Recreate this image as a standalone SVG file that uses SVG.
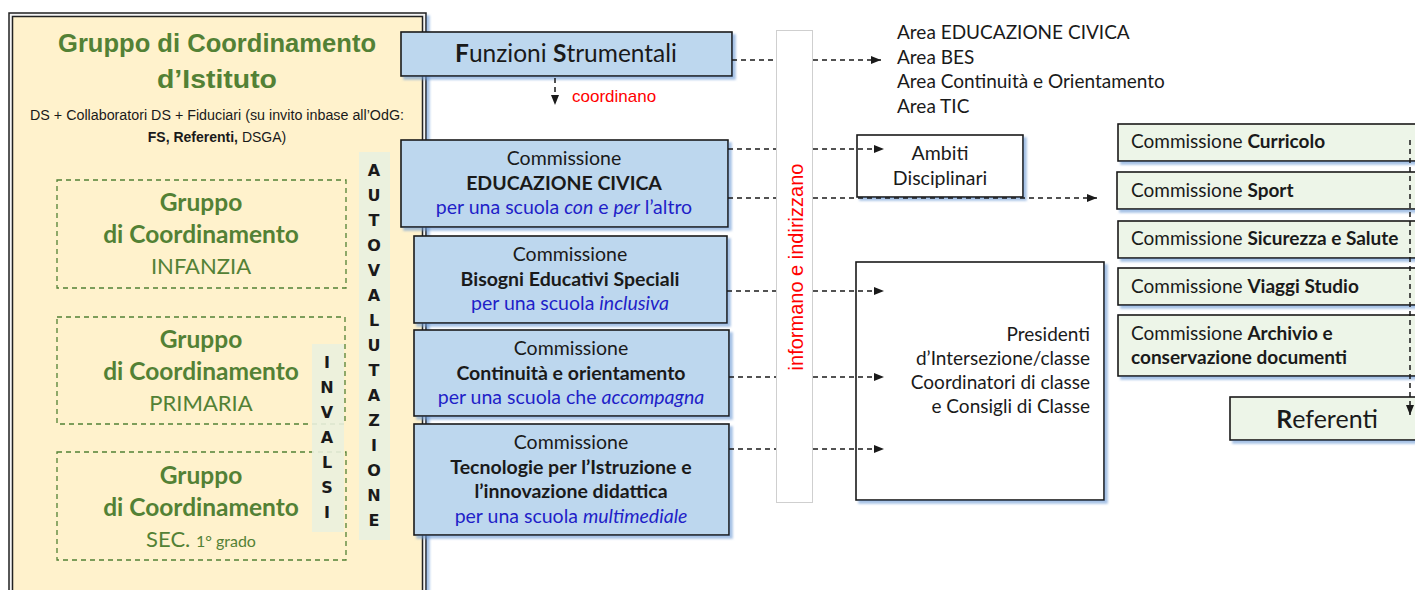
<svg xmlns="http://www.w3.org/2000/svg" width="1415" height="590" viewBox="0 0 1415 590">
<style>
.cal{font-family:Lato,"Open Sans","DejaVu Sans",sans-serif}
.ari{font-family:"Liberation Sans",Arial,sans-serif}
.blue{fill:#BDD7EE;stroke:#1a1a1a;stroke-width:1.6}
.grn{fill:#EDF5E8;stroke:#1a1a1a;stroke-width:1.6}
.wht{fill:#fff;stroke:#1a1a1a;stroke-width:1.6}
.gd{fill:none;stroke:#538135;stroke-width:1.3;stroke-dasharray:5 4}
.gt{fill:#538135}
.bt{fill:#1a1a1a;font-size:19.5px}
.it{fill:#1f1fc8;font-size:19.5px}
.rt{fill:#1a1a1a;font-size:19px}
.con{fill:none;stroke:#1a1a1a;stroke-width:1.5;stroke-dasharray:5 4}
.vl{font-family:"DejaVu Sans",Verdana,sans-serif;font-weight:bold;font-size:16px;fill:#1a1a1a}
</style>
<defs>
<filter id="sh" x="-5%" y="-5%" width="115%" height="120%">
<feDropShadow dx="3" dy="3" stdDeviation="1.2" flood-color="#6D9BD5" flood-opacity="0.6"/>
</filter>
<marker id="ar" viewBox="0 0 10 10" refX="10" refY="5" markerWidth="10" markerHeight="10" markerUnits="userSpaceOnUse" orient="auto">
<path d="M0,1 L10,5 L0,9 Z" fill="#1a1a1a"/>
</marker>
</defs>
<rect width="1415" height="590" fill="#fff"/>

<g id="gruppo-istituto">
<rect x="9" y="13" width="417" height="600" fill="#f4f4f4" stroke="#222" stroke-width="1.5" filter="url(#sh)"/>
<rect x="12.5" y="16.5" width="410" height="600" fill="#FFF2CC" stroke="#222" stroke-width="1.5"/>
<text class="ari gt" x="217" y="52" text-anchor="middle" font-size="26" font-weight="bold" textLength="318" lengthAdjust="spacingAndGlyphs">Gruppo di Coordinamento</text>
<text class="ari gt" x="217" y="88" text-anchor="middle" font-size="26" font-weight="bold" textLength="120" lengthAdjust="spacingAndGlyphs">d’Istituto</text>
<text class="ari" x="217" y="120" text-anchor="middle" font-size="14" fill="#1a1a1a" textLength="374" lengthAdjust="spacingAndGlyphs">DS + Collaboratori DS + Fiduciari (su invito inbase all’OdG:</text>
<text class="ari" x="217" y="142" text-anchor="middle" font-size="14" fill="#1a1a1a"><tspan font-weight="bold">FS, Referenti,</tspan> DSGA)</text>
</g>

<g id="gruppo-infanzia">
<rect class="gd" x="57" y="180" width="289" height="108"/>
<text class="cal gt" x="201" y="211" text-anchor="middle" font-size="24.5" font-weight="bold">Gruppo</text>
<text class="cal gt" x="201" y="243" text-anchor="middle" font-size="24.5" font-weight="bold">di Coordinamento</text>
<text class="cal gt" x="201" y="274" text-anchor="middle" font-size="22">INFANZIA</text>
</g>
<g id="gruppo-primaria">
<rect class="gd" x="57" y="317" width="288" height="107"/>
<text class="cal gt" x="201" y="348" text-anchor="middle" font-size="24.5" font-weight="bold">Gruppo</text>
<text class="cal gt" x="201" y="380" text-anchor="middle" font-size="24.5" font-weight="bold">di Coordinamento</text>
<text class="cal gt" x="201" y="411" text-anchor="middle" font-size="22">PRIMARIA</text>
</g>
<g id="gruppo-sec">
<rect class="gd" x="57" y="452" width="289" height="108"/>
<text class="cal gt" x="201" y="484" text-anchor="middle" font-size="24.5" font-weight="bold">Gruppo</text>
<text class="cal gt" x="201" y="516" text-anchor="middle" font-size="24.5" font-weight="bold">di Coordinamento</text>
<text class="cal gt" x="201" y="547" text-anchor="middle" font-size="22">SEC. <tspan font-size="16">1° grado</tspan></text>
</g>

<g id="invalsi">
<rect x="312" y="344" width="32" height="188" fill="#EBF1DE" opacity="0.9"/>
<text class="vl" text-anchor="middle">
<tspan x="327" y="368">I</tspan><tspan x="327" y="393">N</tspan><tspan x="327" y="418">V</tspan><tspan x="327" y="443">A</tspan><tspan x="327" y="468">L</tspan><tspan x="327" y="493">S</tspan><tspan x="327" y="518">I</tspan>
</text>
</g>
<g id="autovalutazione">
<rect x="359" y="152" width="31" height="388" fill="#EBF1DE"/>
<text class="vl" text-anchor="middle">
<tspan x="374" y="176">A</tspan><tspan x="374" y="201">U</tspan><tspan x="374" y="226">T</tspan><tspan x="374" y="251">O</tspan><tspan x="374" y="276">V</tspan><tspan x="374" y="301">A</tspan><tspan x="374" y="326">L</tspan><tspan x="374" y="351">U</tspan><tspan x="374" y="376">T</tspan><tspan x="374" y="401">A</tspan><tspan x="374" y="426">Z</tspan><tspan x="374" y="451">I</tspan><tspan x="374" y="476">O</tspan><tspan x="374" y="501">N</tspan><tspan x="374" y="526">E</tspan>
</text>
</g>

<g id="funzioni-strumentali">
<rect class="blue" x="401" y="32" width="331" height="44" filter="url(#sh)"/>
<text class="cal" x="566" y="62" text-anchor="middle" font-size="24.5" fill="#1a1a1a"><tspan font-weight="bold">F</tspan>unzioni <tspan font-weight="bold">S</tspan>trumentali</text>
</g>
<text class="ari" x="572" y="102" font-size="17" fill="#ff0000">coordinano</text>
<g id="comm-edciv">
<rect class="blue" x="401" y="140" width="327" height="87" filter="url(#sh)"/>
<text class="cal bt" x="564" y="165" text-anchor="middle">Commissione</text>
<text class="cal bt" x="564" y="190" text-anchor="middle" font-weight="bold">EDUCAZIONE CIVICA</text>
<text class="cal it" x="564" y="214" text-anchor="middle">per una scuola <tspan font-style="italic">con</tspan> e <tspan font-style="italic">per</tspan> l’altro</text>
</g>
<g id="comm-bes">
<rect class="blue" x="414" y="236" width="313" height="87" filter="url(#sh)"/>
<text class="cal bt" x="570" y="261" text-anchor="middle">Commissione</text>
<text class="cal bt" x="570" y="286" text-anchor="middle" font-weight="bold">Bisogni Educativi Speciali</text>
<text class="cal it" x="570" y="310" text-anchor="middle">per una scuola <tspan font-style="italic">inclusiva</tspan></text>
</g>
<g id="comm-continuita">
<rect class="blue" x="414" y="330" width="315" height="86" filter="url(#sh)"/>
<text class="cal bt" x="571" y="355" text-anchor="middle">Commissione</text>
<text class="cal bt" x="571" y="380" text-anchor="middle" font-weight="bold">Continuità e orientamento</text>
<text class="cal it" x="571" y="404" text-anchor="middle">per una scuola che <tspan font-style="italic">accompagna</tspan></text>
</g>
<g id="comm-tecnologie">
<rect class="blue" x="414" y="424" width="315" height="111" filter="url(#sh)"/>
<text class="cal bt" x="571" y="449" text-anchor="middle">Commissione</text>
<text class="cal bt" x="571" y="474" text-anchor="middle" font-weight="bold">Tecnologie per l’Istruzione e</text>
<text class="cal bt" x="571" y="498" text-anchor="middle" font-weight="bold">l’innovazione didattica</text>
<text class="cal it" x="571" y="523" text-anchor="middle">per una scuola <tspan font-style="italic">multimediale</tspan></text>
</g>

<g id="informano-bar">
<rect x="776.5" y="30.5" width="36" height="472" fill="#fff" stroke="#cfcfcf" stroke-width="1"/>
<text class="ari" transform="translate(803,267) rotate(-90)" text-anchor="middle" font-size="20" fill="#ff0000">informano e indirizzano</text>
</g>

<g id="aree">
<text class="cal rt" x="897" y="39">Area EDUCAZIONE CIVICA</text>
<text class="cal rt" x="897" y="64">Area BES</text>
<text class="cal rt" x="897" y="88">Area Continuità e Orientamento</text>
<text class="cal rt" x="897" y="113">Area TIC</text>
</g>

<g id="ambiti">
<rect class="wht" x="857" y="135" width="166" height="62" filter="url(#sh)"/>
<text class="cal" x="940" y="160" text-anchor="middle" font-size="19.5" fill="#1a1a1a">Ambiti</text>
<text class="cal" x="940" y="185" text-anchor="middle" font-size="19.5" fill="#1a1a1a">Disciplinari</text>
</g>

<g id="presidenti">
<rect class="wht" x="856" y="262" width="248" height="238" filter="url(#sh)"/>
<text class="cal rt" x="1090" y="341" text-anchor="end">Presidenti</text>
<text class="cal rt" x="1090" y="365" text-anchor="end">d’Intersezione/classe</text>
<text class="cal rt" x="1090" y="389" text-anchor="end">Coordinatori di classe</text>
<text class="cal rt" x="1090" y="413" text-anchor="end">e Consigli di Classe</text>
</g>

<g id="comm-curricolo">
<rect class="grn" x="1118" y="124" width="310" height="37" filter="url(#sh)"/>
<text class="cal rt" x="1131" y="148">Commissione <tspan font-weight="bold">Curricolo</tspan></text>
</g>
<g id="comm-sport">
<rect class="grn" x="1117" y="172" width="310" height="37" filter="url(#sh)"/>
<text class="cal rt" x="1131" y="197">Commissione <tspan font-weight="bold">Sport</tspan></text>
</g>
<g id="comm-sicurezza">
<rect class="grn" x="1118" y="221" width="310" height="37" filter="url(#sh)"/>
<text class="cal rt" x="1131" y="245">Commissione <tspan font-weight="bold">Sicurezza e Salute</tspan></text>
</g>
<g id="comm-viaggi">
<rect class="grn" x="1118" y="268" width="310" height="37" filter="url(#sh)"/>
<text class="cal rt" x="1131" y="293">Commissione <tspan font-weight="bold">Viaggi Studio</tspan></text>
</g>
<g id="comm-archivio">
<rect class="grn" x="1118" y="315" width="310" height="61" filter="url(#sh)"/>
<text class="cal rt" x="1131" y="340">Commissione <tspan font-weight="bold">Archivio e</tspan></text>
<text class="cal rt" x="1131" y="364" font-weight="bold">conservazione documenti</text>
</g>
<g id="referenti">
<rect class="grn" x="1230" y="397" width="198" height="43" filter="url(#sh)"/>
<text class="cal" x="1327" y="428" text-anchor="middle" font-size="25" fill="#1a1a1a"><tspan font-weight="bold">R</tspan>eferenti</text>
</g>

<g id="connectors">
<line class="con" x1="732" y1="60" x2="776" y2="60"/>
<line class="con" x1="813" y1="60" x2="881" y2="60" marker-end="url(#ar)"/>
<line class="con" x1="555" y1="78" x2="555" y2="105" marker-end="url(#ar)"/>
<line class="con" x1="728" y1="149" x2="776" y2="149"/>
<line class="con" x1="813" y1="149" x2="884" y2="149" marker-end="url(#ar)"/>
<line class="con" x1="728" y1="198" x2="776" y2="198"/>
<line class="con" x1="813" y1="198" x2="1097" y2="198" marker-end="url(#ar)"/>
<line class="con" x1="727" y1="291" x2="776" y2="291"/>
<line class="con" x1="813" y1="291" x2="884" y2="291" marker-end="url(#ar)"/>
<line class="con" x1="729" y1="377" x2="776" y2="377"/>
<line class="con" x1="813" y1="377" x2="884" y2="377" marker-end="url(#ar)"/>
<line class="con" x1="729" y1="449" x2="776" y2="449"/>
<line class="con" x1="813" y1="449" x2="884" y2="449" marker-end="url(#ar)"/>
<line class="con" x1="1410" y1="140" x2="1410" y2="415" marker-end="url(#ar)"/>
</g>
</svg>
